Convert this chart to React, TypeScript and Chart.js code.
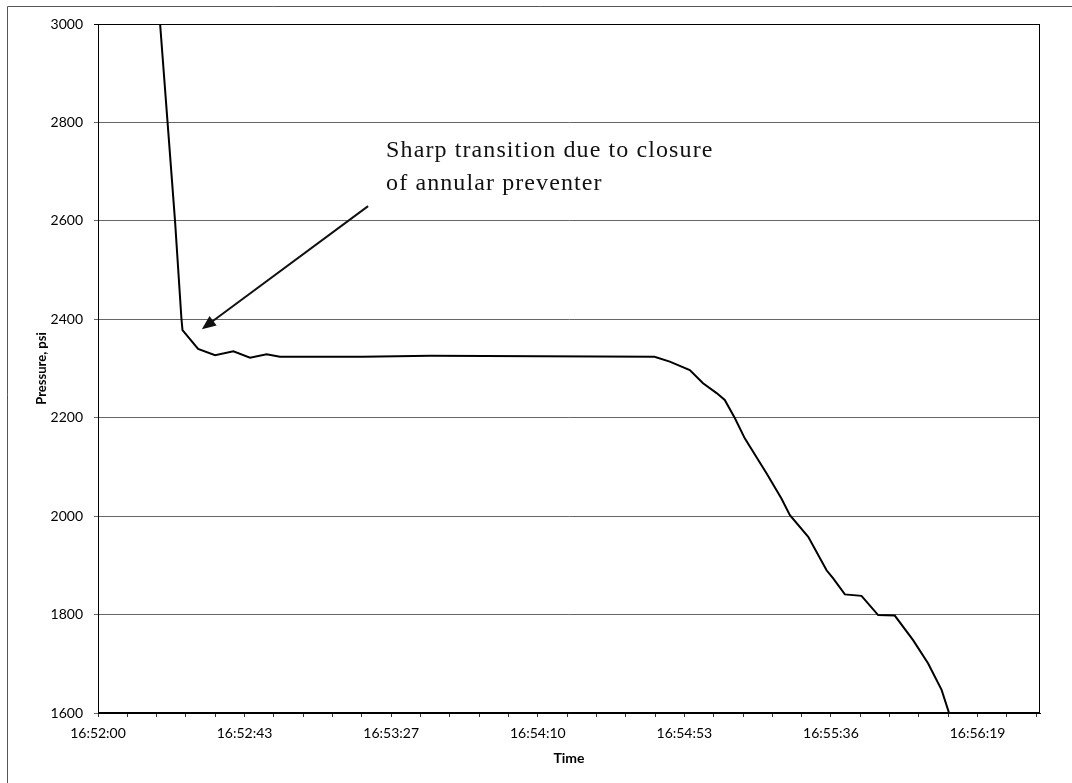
import React, { useEffect, useRef } from "react";
import { Chart, registerables } from "chart.js";

Chart.register(...registerables);

// seconds after 16:52:00
const timeSeconds = [
  18.3, 20.5, 22.7, 24.6, 24.9, 29.5, 34.5, 39.9, 44.8, 49.7, 53.6, 78, 98, 130,
  164, 168.5, 174.4, 178.3, 182.3, 184.7, 187.7, 190.6, 197, 201.4, 203.9, 209.3,
  214.7, 216.6, 220.1, 225, 229.9, 234.8, 240.2, 244.6, 248.6, 250.8,
];
const pressurePsi = [
  3000, 2800, 2600, 2400, 2378, 2340, 2327, 2335, 2322, 2329, 2324, 2324, 2326,
  2325, 2324, 2314, 2297, 2270, 2250, 2236, 2199, 2158, 2087, 2036, 2002, 1958,
  1890, 1874, 1841, 1838, 1799, 1798, 1748, 1701, 1647, 1600,
];
const xTickLabels = [
  "16:52:00",
  "16:52:43",
  "16:53:27",
  "16:54:10",
  "16:54:53",
  "16:55:36",
  "16:56:19",
];
const labelStep = 43.2; // seconds between labelled ticks
const minorPerLabel = 5;
const xMax = 277.6;
const yMin = 1600;
const yMax = 3000;
const yStep = 200;

const annotationLines = ["Sharp transition due to closure", "of annular preventer"];
const annotationText = { x: 84.9, y: 2730 };
const arrowTail = { x: 79.6, y: 2630 };
const arrowTip = { x: 30.6, y: 2380 };

const framePlugin = {
  id: "framePlugin",
  beforeDraw(chart: any) {
    const { ctx, width, height } = chart;
    ctx.save();
    ctx.fillStyle = "#fff";
    ctx.fillRect(0, 0, width, height);
    ctx.strokeStyle = "#555";
    ctx.lineWidth = 1;
    ctx.beginPath();
    ctx.moveTo(7.5, height);
    ctx.lineTo(7.5, 6.5);
    ctx.lineTo(width, 6.5);
    ctx.stroke();
    ctx.restore();
  },
  afterDraw(chart: any) {
    const { ctx, chartArea } = chart;
    const xs = chart.scales.x;
    const ys = chart.scales.y;
    ctx.save();
    ctx.strokeStyle = "#000";
    ctx.lineWidth = 1;
    ctx.strokeRect(
      Math.round(chartArea.left) + 0.5,
      Math.round(chartArea.top) + 0.5,
      Math.round(chartArea.right - chartArea.left) - 1,
      Math.round(chartArea.bottom - chartArea.top) - 1
    );
    // annotation text
    ctx.fillStyle = "#111";
    ctx.font = '24px "Liberation Serif", "Times New Roman", serif';
    ctx.textBaseline = "alphabetic";
    ctx.textAlign = "left";
    try {
      (ctx as any).letterSpacing = "1.1px";
    } catch (e) {}
    const tx = xs.getPixelForValue(annotationText.x);
    const ty = ys.getPixelForValue(annotationText.y);
    annotationLines.forEach((line, i) => ctx.fillText(line, tx, ty + i * 33));
    try {
      (ctx as any).letterSpacing = "0px";
    } catch (e) {}
    // arrow
    const x1 = xs.getPixelForValue(arrowTail.x);
    const y1 = ys.getPixelForValue(arrowTail.y);
    const x2 = xs.getPixelForValue(arrowTip.x);
    const y2 = ys.getPixelForValue(arrowTip.y);
    const ang = Math.atan2(y2 - y1, x2 - x1);
    const headLen = 14;
    const headW = 6;
    ctx.strokeStyle = "#111";
    ctx.lineWidth = 2;
    ctx.beginPath();
    ctx.moveTo(x1, y1);
    ctx.lineTo(x2 - Math.cos(ang) * headLen * 0.8, y2 - Math.sin(ang) * headLen * 0.8);
    ctx.stroke();
    ctx.fillStyle = "#111";
    ctx.beginPath();
    ctx.moveTo(x2, y2);
    const bx = x2 - Math.cos(ang) * headLen;
    const by = y2 - Math.sin(ang) * headLen;
    ctx.lineTo(bx + Math.sin(ang) * headW, by - Math.cos(ang) * headW);
    ctx.lineTo(bx - Math.sin(ang) * headW, by + Math.cos(ang) * headW);
    ctx.closePath();
    ctx.fill();
    ctx.restore();
  },
};

export default function App() {
  const canvasRef = useRef<HTMLCanvasElement | null>(null);

  useEffect(() => {
    const canvas = canvasRef.current;
    if (!canvas) return;
    const points = timeSeconds.map((t, i) => ({ x: t, y: pressurePsi[i] }));
    const chart = new Chart(canvas, {
      type: "scatter",
      data: {
        datasets: [
          {
            data: points,
            showLine: true,
            borderColor: "#000",
            borderWidth: 2,
            pointRadius: 0,
            tension: 0,
          },
        ],
      },
      options: {
        animation: false,
        responsive: false,
        devicePixelRatio: 1,
        layout: { padding: { left: 0, top: 24, right: 32, bottom: 0 } },
        plugins: { legend: { display: false }, tooltip: { enabled: false } },
        scales: {
          x: {
            type: "linear",
            min: 0,
            max: xMax,
            afterBuildTicks(scale: any) {
              const ticks = [];
              const n = (xTickLabels.length - 1) * minorPerLabel + Math.floor((xMax - labelStep * (xTickLabels.length - 1)) / (labelStep / minorPerLabel));
              for (let k = 0; k <= n; k++) ticks.push({ value: (k * labelStep) / minorPerLabel });
              scale.ticks = ticks;
            },
            afterFit(scale: any) {
              scale.height = 70;
            },
            ticks: {
              autoSkip: false,
              maxRotation: 0,
              padding: 8,
              color: "#000",
              font: { family: "Lato", size: 14 },
              callback(_v: any, index: number) {
                return index % minorPerLabel === 0 ? xTickLabels[index / minorPerLabel] ?? "" : "";
              },
            },
            grid: {
              display: true,
              drawOnChartArea: false,
              drawTicks: true,
              tickLength: 4,
              color: "#333",
            },
            border: { display: true, color: "#000", width: 1 },
            title: {
              display: true,
              text: "Time",
              color: "#000",
              font: { family: "Lato", size: 14, weight: "bold" },
              padding: { top: 0, bottom: 16 },
            },
          },
          y: {
            min: yMin,
            max: yMax,
            afterFit(scale: any) {
              scale.width = 98;
            },
            ticks: {
              stepSize: yStep,
              padding: 11,
              color: "#000",
              font: { family: "Lato", size: 14 },
              callback(v: any) {
                return String(v);
              },
            },
            grid: {
              color: (c: any) => (c.tick && c.tick.value === yMax ? "#000" : "#666"),
              lineWidth: 1,
              tickLength: 4,
              drawTicks: true,
            },
            border: { display: true, color: "#000", width: 1 },
            title: {
              display: true,
              text: "Pressure, psi",
              color: "#000",
              font: { family: "Lato", size: 13, weight: "bold" },
              padding: { top: 34, bottom: 0 },
            },
          },
        },
      },
      plugins: [framePlugin],
    });
    return () => chart.destroy();
  }, []);

  return (
    <div style={{ position: "fixed", left: 0, top: 0, width: 1072, height: 783, background: "#fff" }}>
      <canvas ref={canvasRef} width={1072} height={783} style={{ display: "block" }} />
    </div>
  );
}
